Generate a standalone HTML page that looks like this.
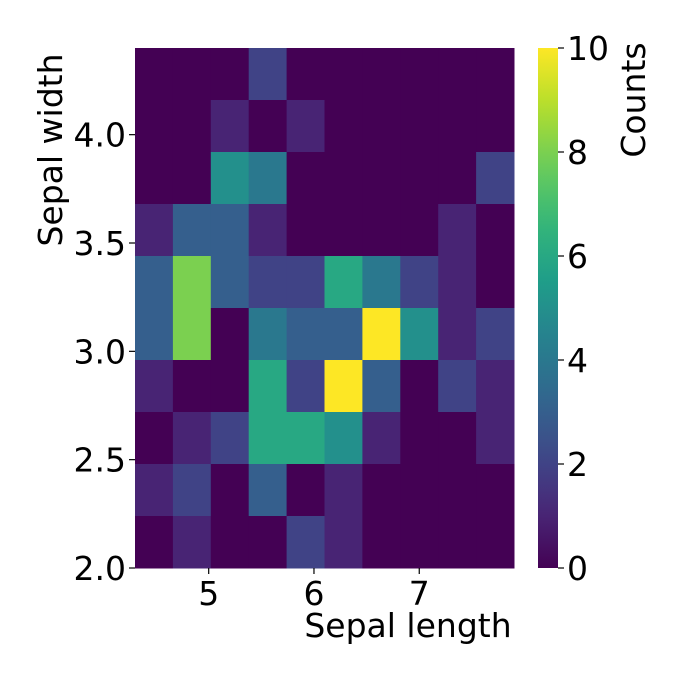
<!DOCTYPE html>
<html><head><meta charset="utf-8"><style>
body{margin:0;background:#fff;}
text{font-family:"DejaVu Sans","Liberation Sans",sans-serif;fill:#000;}
</style></head><body>
<svg id="chart" width="680" height="680" xmlns="http://www.w3.org/2000/svg">
<g id="cells"></g>
<g id="axes"></g>
<defs><linearGradient id="vir" x1="0" y1="1" x2="0" y2="0"></linearGradient></defs>
</svg>
<script>
const xEdgesMin = 4.3, xEdgesMax = 7.9, yEdgesMin = 2.0, yEdgesMax = 4.4;
const nBins = 10;
const countsRow0 = [0,0,0,2,0,0,0,0,0,0];
const countsRow1 = [0,0,1,0,1,0,0,0,0,0];
const countsRow2 = [0,0,5,4,0,0,0,0,0,2];
const countsRow3 = [1,3,3,1,0,0,0,0,1,0];
const countsRow4 = [3,8,3,2,2,6,4,2,1,0];
const countsRow5 = [3,8,0,4,3,3,10,5,1,2];
const countsRow6 = [1,0,0,6,2,10,3,0,2,1];
const countsRow7 = [0,1,2,6,6,5,1,0,0,1];
const countsRow8 = [1,2,0,3,0,1,0,0,0,0];
const countsRow9 = [0,1,0,0,2,1,0,0,0,0];
const rows = [countsRow0,countsRow1,countsRow2,countsRow3,countsRow4,countsRow5,countsRow6,countsRow7,countsRow8,countsRow9];
const xTicks = [5,6,7];
const yTicks = [2.0,2.5,3.0,3.5,4.0];
const cbTicks = [0,2,4,6,8,10];
const vmax = 10;

const L=135,R=514,T=48,B=568;
const sx=v=>L+(v-xEdgesMin)/(xEdgesMax-xEdgesMin)*(R-L);
const sy=v=>B-(v-yEdgesMin)/(yEdgesMax-yEdgesMin)*(B-T);
const vir=[[68,1,84],[72,40,120],[62,74,137],[49,104,142],[38,130,142],[31,158,137],[53,183,121],[109,205,89],[180,222,44],[253,231,37]];
function cmap(t){t=Math.max(0,Math.min(1,t));const p=t*(vir.length-1);const i=Math.min(Math.floor(p),vir.length-2);const f=p-i;
 const c=vir[i].map((a,k)=>Math.round(a+(vir[i+1][k]-a)*f));return `rgb(${c[0]},${c[1]},${c[2]})`;}
const NS='http://www.w3.org/2000/svg';
function mk(tag,attrs,parent){const e=document.createElementNS(NS,tag);for(const k in attrs)e.setAttribute(k,attrs[k]);parent.appendChild(e);return e;}
const cells=document.getElementById('cells'), axes=document.getElementById('axes');
const dx=(xEdgesMax-xEdgesMin)/nBins, dy=(yEdgesMax-yEdgesMin)/nBins;
rows.forEach((row,r)=>row.forEach((v,c)=>{
 const x0=sx(xEdgesMin+c*dx),x1=sx(xEdgesMin+(c+1)*dx);
 const yTop=sy(yEdgesMax-r*dy),yBot=sy(yEdgesMax-(r+1)*dy);
 const e=mk('rect',{x:x0,y:yTop,width:x1-x0+0.5,height:yBot-yTop+0.5,fill:cmap(v/vmax)},cells);
 
 
}));
let e;
const FS=33;
xTicks.forEach(v=>{const x=sx(v);
 mk('line',{x1:x,x2:x,y1:B,y2:B+6,stroke:'#000','stroke-width':1.2},axes);
 e=mk('text',{x:x,y:B+37,'font-size':FS,'text-anchor':'middle'},axes);e.textContent=v;
 
 
});
yTicks.forEach(v=>{const y=sy(v);
 mk('line',{x1:L-6,x2:L,y1:y,y2:y,stroke:'#000','stroke-width':1.2},axes);
 e=mk('text',{x:L-9,y:y+12,'font-size':FS,'text-anchor':'end'},axes);e.textContent=v.toFixed(1);
 
 
});
e=mk('text',{x:408,y:637,'font-size':FS,'text-anchor':'middle'},axes);e.textContent='Sepal length';


e=mk('text',{x:62,y:150,'font-size':FS,'text-anchor':'middle',transform:'rotate(-90 62 150)'},axes);e.textContent='Sepal width';


const g=document.getElementById('vir');
for(let i=0;i<=20;i++){mk('stop',{offset:(i/20),'stop-color':cmap(i/20)},g);}
const CL=538,CR=558;
e=mk('rect',{x:CL,y:T,width:CR-CL,height:B-T,fill:'url(#vir)'},axes);


cbTicks.forEach(v=>{const y=B-v/vmax*(B-T);
 mk('line',{x1:CR,x2:CR+6,y1:y,y2:y,stroke:'#000','stroke-width':1.2},axes);
 e=mk('text',{x:CR+9,y:y+12,'font-size':FS},axes);e.textContent=v;
 
 
});
e=mk('text',{x:645,y:100,'font-size':FS,'text-anchor':'middle',transform:'rotate(-90 645 100)'},axes);e.textContent='Counts';


</script>
</body></html>
